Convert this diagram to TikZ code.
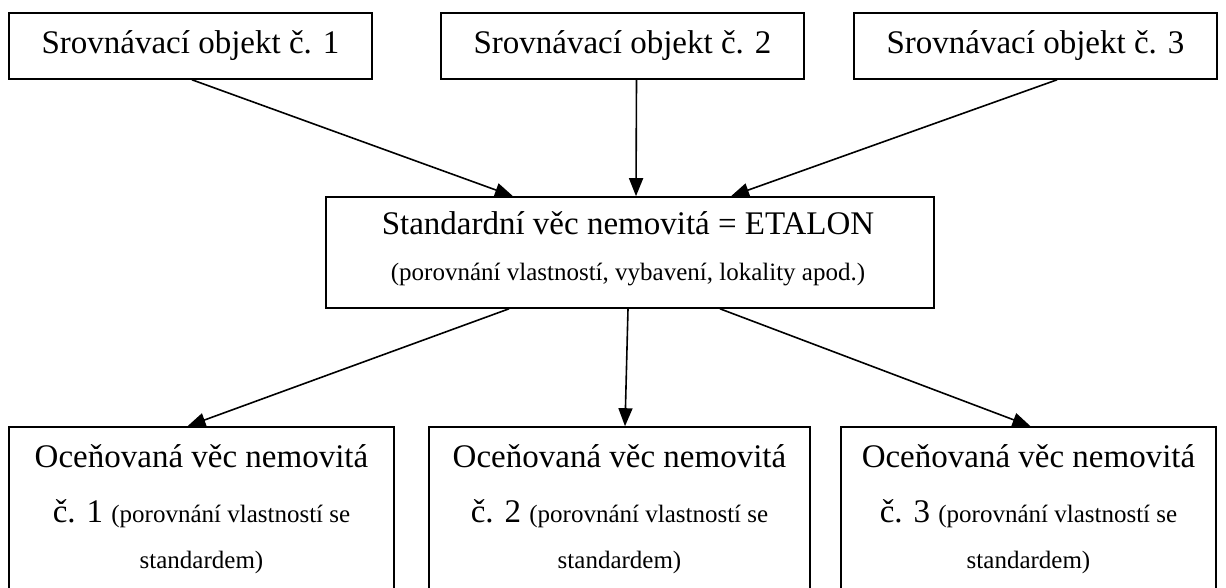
\documentclass[tikz,border=0pt]{standalone}
\usepackage{fontspec}
\setmainfont{Liberation Serif}
\usetikzlibrary{arrows.meta}
\newcommand{\bigf}{\fontsize{33}{40}\selectfont}
\newcommand{\smallf}{\fontsize{25}{30}\selectfont}
\begin{document}
\begin{tikzpicture}[x=1pt,y=-1pt,
  box/.style={draw, line width=1.6pt, inner sep=0pt},
  big/.style={font=\bigf},
  small/.style={font=\smallf},
  conn/.style={line width=1.6pt, -{Triangle[length=18pt,width=14pt]}}]
\useasboundingbox (0,0) rectangle (1226,588);
\fill[white] (0,0) rectangle (1226,588);

% top boxes
\node[box, big, minimum width=363pt, minimum height=66pt] (s1) at (190.5,46) {Srovnávací objekt č. 1};
\node[box, big, minimum width=363pt, minimum height=66pt] (s2) at (622.5,46) {Srovnávací objekt č. 2};
\node[box, big, minimum width=363pt, minimum height=66pt] (s3) at (1035.5,46) {Srovnávací objekt č. 3};

% middle box
\node[box, minimum width=608pt, minimum height=111pt] (et) at (630,252.5) {};
\node[big, anchor=base, inner sep=0pt] (etT) at (628,235) {Standardní věc nemovitá = ETALON};
\node[small, anchor=base, inner sep=0pt] (etS) at (628,280) {(porovnání vlastností, vybavení, lokality apod.)};

% bottom boxes
\node[box, minimum width=385pt, minimum height=190pt] (o1) at (201.5,522) {};
\node[box, minimum width=381pt, minimum height=190pt] (o2) at (619.5,522) {};
\node[box, minimum width=375pt, minimum height=190pt] (o3) at (1028.5,522) {};

\node[big, anchor=base, inner sep=0pt] (o1a) at (201.5,467) {Oceňovaná věc nemovitá};
\node[big, anchor=base, inner sep=0pt] (o1b) at (201.5,522) {č. 1 \smallf(porovnání vlastností se};
\node[small, anchor=base, inner sep=0pt] (o1c) at (201.5,568) {standardem)};

\node[big, anchor=base, inner sep=0pt] (o2a) at (619.5,467) {Oceňovaná věc nemovitá};
\node[big, anchor=base, inner sep=0pt] (o2b) at (619.5,522) {č. 2 \smallf(porovnání vlastností se};
\node[small, anchor=base, inner sep=0pt] (o2c) at (619.5,568) {standardem)};

\node[big, anchor=base, inner sep=0pt] (o3a) at (1028.5,467) {Oceňovaná věc nemovitá};
\node[big, anchor=base, inner sep=0pt] (o3b) at (1028.5,522) {č. 3 \smallf(porovnání vlastností se};
\node[small, anchor=base, inner sep=0pt] (o3c) at (1028.5,568) {standardem)};

% connectors
\draw[conn] ([xshift=1.5pt]s1.south) -- ([xshift=-117pt]et.north);
\draw[conn] ([xshift=14pt]s2.south) -- ([xshift=6pt]et.north);
\draw[conn] ([xshift=21.5pt]s3.south) -- ([xshift=101pt]et.north);

\draw[conn] ([xshift=-121pt]et.south) -- ([xshift=-14pt]o1.north);
\draw[conn] ([xshift=-2pt]et.south) -- ([xshift=5.5pt]o2.north);
\draw[conn] ([xshift=90pt]et.south) -- ([xshift=2pt]o3.north);
\end{tikzpicture}
\end{document}
